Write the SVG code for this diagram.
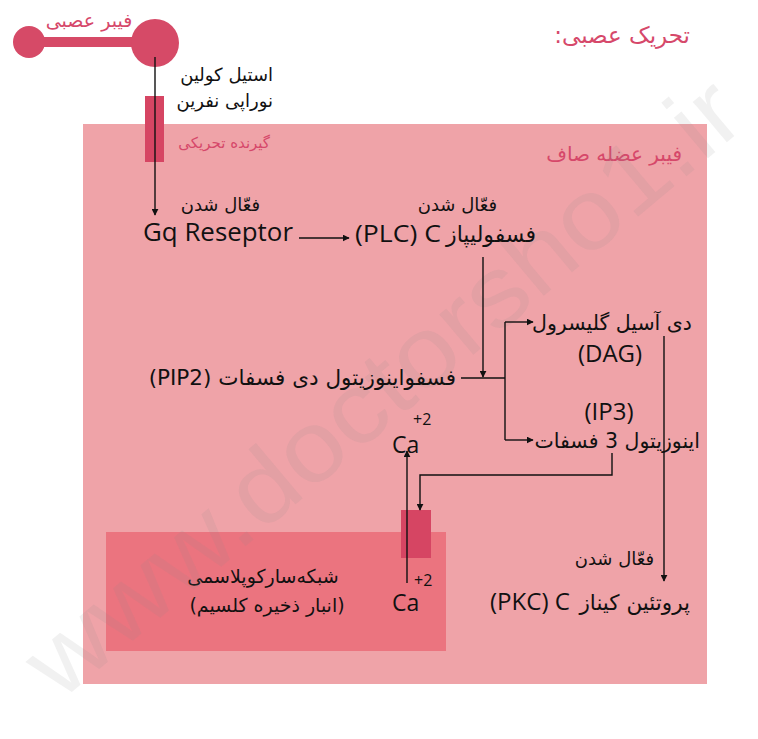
<svg xmlns="http://www.w3.org/2000/svg" width="758" height="739" viewBox="0 0 758 739">
<defs>
<marker id="ah" viewBox="0 0 10 10" refX="9" refY="5" markerWidth="7" markerHeight="7" markerUnits="userSpaceOnUse" orient="auto"><path d="M0,0 L10,5 L0,10 z" fill="#111"/></marker>
<style>
.fa{font-family:"DejaVu Sans","Noto Sans",sans-serif;fill:#111;}
.pink{fill:#d6486a;}
.en{font-family:"Open Sans","Liberation Sans",sans-serif;fill:#111;}
.ln{stroke:#111;stroke-width:1.4;fill:none;}
</style>
</defs>
<rect width="758" height="739" fill="#fff"/>
<g id="muscle"><rect x="83" y="124" width="624" height="560" fill="#efa3a8"/>
<text class="fa pink" x="682" y="161" font-size="20" text-anchor="start" direction="rtl">فیبر عضله صاف</text></g>
<g id="sr"><rect x="106" y="532" width="340" height="119" fill="#eb747f"/>
<text class="fa" x="263" y="583" font-size="19" text-anchor="middle" direction="rtl">شبکه‌سارکوپلاسمی</text>
<text class="fa" x="267" y="612" font-size="19" text-anchor="middle" direction="rtl">(انبار ذخیره کلسیم)</text></g>
<text x="385" y="420" font-family="Liberation Sans,sans-serif" font-size="100" fill="#8a8a8a" fill-opacity="0.12" text-anchor="middle" transform="rotate(-40 385 390)" textLength="900" lengthAdjust="spacingAndGlyphs">www.doctorsho1.ir</text>
<g id="title"><text class="fa pink" x="690" y="43" font-size="23" text-anchor="start" direction="rtl">تحریک عصبی:</text></g>
<g id="nerve"><line x1="29" y1="42" x2="155" y2="42" stroke="#d64a67" stroke-width="10"/>
<circle cx="29" cy="42" r="16" fill="#d64a67"/><circle cx="155" cy="43" r="24" fill="#d64a67"/>
<text class="fa pink" x="89" y="27" font-size="19" text-anchor="middle" direction="rtl">فیبر عصبی</text></g>
<g id="receptor"><rect x="145" y="96" width="19" height="66" fill="#d64563"/>
<text class="fa" x="273" y="81" font-size="18" text-anchor="start" direction="rtl">استیل کولین</text>
<text class="fa" x="273" y="107" font-size="18" text-anchor="start" direction="rtl">نوراپی نفرین</text>
<text class="fa pink" x="270" y="148" font-size="15" text-anchor="start" direction="rtl">گیرنده تحریکی</text></g>
<g id="gq"><text class="fa" x="260" y="211" font-size="18" text-anchor="start" direction="rtl">فعّال شدن</text>
<text class="en" x="143" y="241" font-size="25" textLength="150" lengthAdjust="spacingAndGlyphs">Gq Reseptor</text></g>
<g id="plc"><text class="fa" x="497" y="211" font-size="18" text-anchor="start" direction="rtl">فعّال شدن</text>
<text class="fa" x="536" y="242" font-size="22" text-anchor="start" direction="rtl">فسفولیپاز</text>
<text class="en" x="355" y="242" font-size="24" textLength="86" lengthAdjust="spacingAndGlyphs">(PLC) C</text></g>
<g id="pip2"><text class="fa" x="456" y="385" font-size="21.5" text-anchor="start" direction="rtl">فسفواینوزیتول دی فسفات (PIP2)</text></g>
<g id="dag"><text class="fa" x="692" y="330" font-size="20.5" text-anchor="start" direction="rtl">دی آسیل گلیسرول</text>
<text class="en" x="610" y="362" font-size="24" text-anchor="middle">(DAG)</text></g>
<g id="ip3"><text class="en" x="609" y="420" font-size="24" text-anchor="middle">(IP3)</text>
<text class="fa" x="700" y="448" font-size="20.5" text-anchor="start" direction="rtl">اینوزیتول 3 فسفات</text></g>
<g id="pkc"><text class="fa" x="654" y="565" font-size="18" text-anchor="start" direction="rtl">فعّال شدن</text>
<text class="fa" x="690" y="610" font-size="21.5" text-anchor="start" direction="rtl">پروتئین کیناز</text>
<text class="en" x="490" y="610" font-size="24" textLength="80" lengthAdjust="spacingAndGlyphs">(PKC) C</text></g>
<g id="channel"><rect x="401" y="510" width="30" height="48" fill="#d64563"/></g>
<g id="ca-top"><text class="en" x="392" y="453" font-size="23">Ca</text><text class="en" x="413" y="425" font-size="16">+2</text></g>
<g id="ca-bottom"><text class="en" x="392" y="611" font-size="23">Ca</text><text class="en" x="414" y="586" font-size="16">+2</text></g>
<g id="connectors">
<line class="ln" x1="155" y1="57" x2="155" y2="215" marker-end="url(#ah)"/>
<line class="ln" x1="299" y1="238" x2="349" y2="238" marker-end="url(#ah)"/>
<line class="ln" x1="483" y1="257" x2="483" y2="377" marker-end="url(#ah)"/>
<line class="ln" x1="461" y1="378" x2="505" y2="378"/>
<line class="ln" x1="505" y1="322" x2="505" y2="440"/>
<line class="ln" x1="505" y1="322" x2="533" y2="322" marker-end="url(#ah)"/>
<line class="ln" x1="505" y1="440" x2="533" y2="440" marker-end="url(#ah)"/>
<line class="ln" x1="664" y1="336" x2="664" y2="581" marker-end="url(#ah)"/>
<polyline class="ln" points="612,453 612,475 420,475 420,510" marker-end="url(#ah)"/>
<line class="ln" x1="407" y1="583" x2="407" y2="451" marker-end="url(#ah)"/>
</g>
</svg>
